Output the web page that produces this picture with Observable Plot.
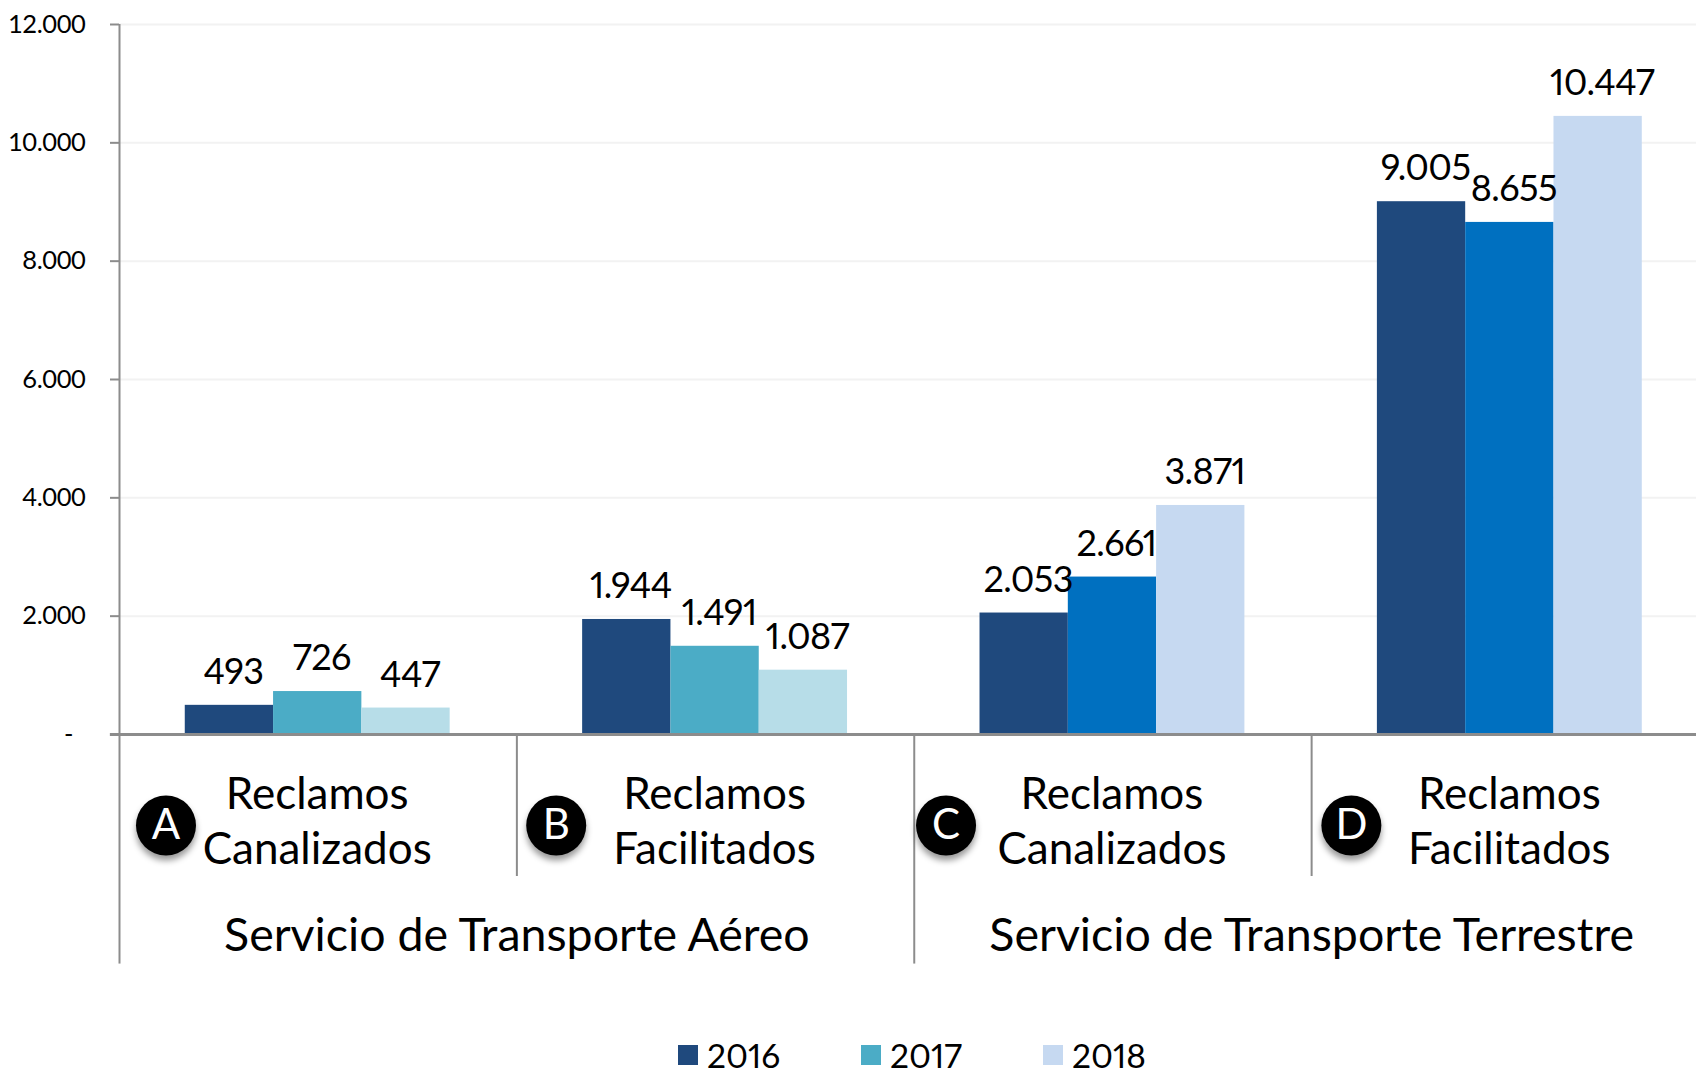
<!DOCTYPE html>
<html>
<head>
<meta charset="utf-8">
<script src="https://cdn.jsdelivr.net/npm/d3@7"></script>
<script src="https://cdn.jsdelivr.net/npm/@observablehq/plot@0.6"></script>
<style>
html,body{margin:0;padding:0;background:#fff;overflow:hidden}
svg{display:block;font-family:Lato,sans-serif;font-variant-numeric:proportional-nums}
.badge{filter:drop-shadow(0 5px 3px rgba(0,0,0,.4))}
.val{letter-spacing:-0.6px}
.tick-labels{letter-spacing:-0.4px}
#legend{position:relative;height:58px;font:33.5px Lato,sans-serif;font-variant-numeric:proportional-nums;color:#000;overflow:hidden}
#legend i{position:absolute;top:35px;width:20px;height:20px}
#legend span{position:absolute;top:32px;line-height:26px}
</style>
</head>
<body>
<div id="chart"></div>
<div id="legend"></div>
<script>
const years = ["2016", "2017", "2018"];
const letters = ["A", "B", "C", "D"];
const categories = ["Reclamos\nCanalizados", "Reclamos\nFacilitados", "Reclamos\nCanalizados", "Reclamos\nFacilitados"];
const services = ["Servicio de Transporte Aéreo", "Servicio de Transporte Terrestre"];
const series2016 = [493, 1944, 2053, 9005];
const series2017 = [726, 1491, 2661, 8655];
const series2018 = [447, 1087, 3871, 10447];
const airColors = ["#1f497d", "#4bacc6", "#b7dde8"];
const landColors = ["#1f497d", "#0070c0", "#c6d9f1"];
const legendColors = ["#1f497d", "#4bacc6", "#c6d9f1"];
const badgeOffsets = [0.117, 0.099, 0.08, 0.1];
const yTicks = [0, 2000, 4000, 6000, 8000, 10000, 12000];

const rows = [series2016, series2017, series2018].flatMap((s, j) =>
  s.map((value, i) => ({
    group: i, yearIndex: j, year: years[j], value,
    color: (i < 2 ? airColors : landColors)[j]
  })));

const barStart = d => d.group + 0.1655 + d.yearIndex * 0.2222;
const es = d3.formatLocale({decimal: ",", thousands: ".", grouping: [3], currency: ["", ""]}).format(",d");
const groups = d3.range(4);

const chart = Plot.plot({
  width: 1696, height: 1010,
  marginLeft: 119, marginRight: -12.5, marginTop: 24, marginBottom: 276,
  style: {background: "#fff", overflow: "hidden"},
  x: {domain: [0, 4], axis: null},
  y: {domain: [0, 12000], axis: null},
  marks: [
    Plot.ruleY(yTicks.slice(1), {stroke: "#f2f2f2", strokeWidth: 2}),
    Plot.rectY(rows, {
      x1: barStart, x2: d => barStart(d) + 0.2222, y1: 0, y2: "value", fill: "color"
    }),
    Plot.axisY({
      ticks: yTicks, tickSize: 9, tickPadding: 25, stroke: "#8c8c8c", color: "#000",
      tickFormat: d => d === 0 ? "-\u2002" : es(d), fontSize: 25.5, strokeWidth: 2, label: null,
      className: "tick-labels"
    }),
    Plot.ruleX([0, 2], {y1: 0, y2: -3880, stroke: "#8c8c8c", strokeWidth: 2}),
    Plot.ruleX([1, 3], {y1: 0, y2: -2400, stroke: "#8c8c8c", strokeWidth: 2}),
    Plot.ruleX([0], {y1: 0, y2: 12000, stroke: "#8c8c8c", strokeWidth: 2}),
    Plot.ruleY([0], {x1: -0.023, x2: 4, stroke: "#8c8c8c", strokeWidth: 3}),
    Plot.text(rows, {
      x: d => barStart(d) + 0.1111, y: "value", text: d => es(d.value),
      dx: 4, dy: -33, fontSize: 36, fill: "#000", lineAnchor: "middle", className: "val"
    }),
    Plot.text(groups, {
      x: i => i + 0.5, y: 0, text: i => categories[i], dx: -1, dy: 84, fontSize: 44,
      lineHeight: 1.25, fill: "#000", lineAnchor: "middle"
    }),
    Plot.text(services, {
      x: (d, i) => i * 2 + 1, y: 0, text: d => d, dy: 202, fontSize: 46.5,
      fill: "#000", lineAnchor: "middle"
    }),
    Plot.dot(groups, {
      x: i => i + badgeOffsets[i], y: 0, dy: 91, r: 30, fill: "#000", className: "badge"
    }),
    Plot.text(groups, {
      x: i => i + badgeOffsets[i], y: 0, dy: 91, text: i => letters[i],
      fontSize: 42, fill: "#fff", lineAnchor: "middle"
    })
  ]
});
document.getElementById("chart").append(chart);

const legend = document.getElementById("legend");
const legendX = [678, 861, 1043];
years.forEach((y, i) => {
  const sw = document.createElement("i");
  sw.style.left = legendX[i] + "px";
  sw.style.background = legendColors[i];
  const t = document.createElement("span");
  t.style.left = legendX[i] + 29 + "px";
  t.textContent = y;
  legend.append(sw, t);
});
</script>
</body>
</html>
